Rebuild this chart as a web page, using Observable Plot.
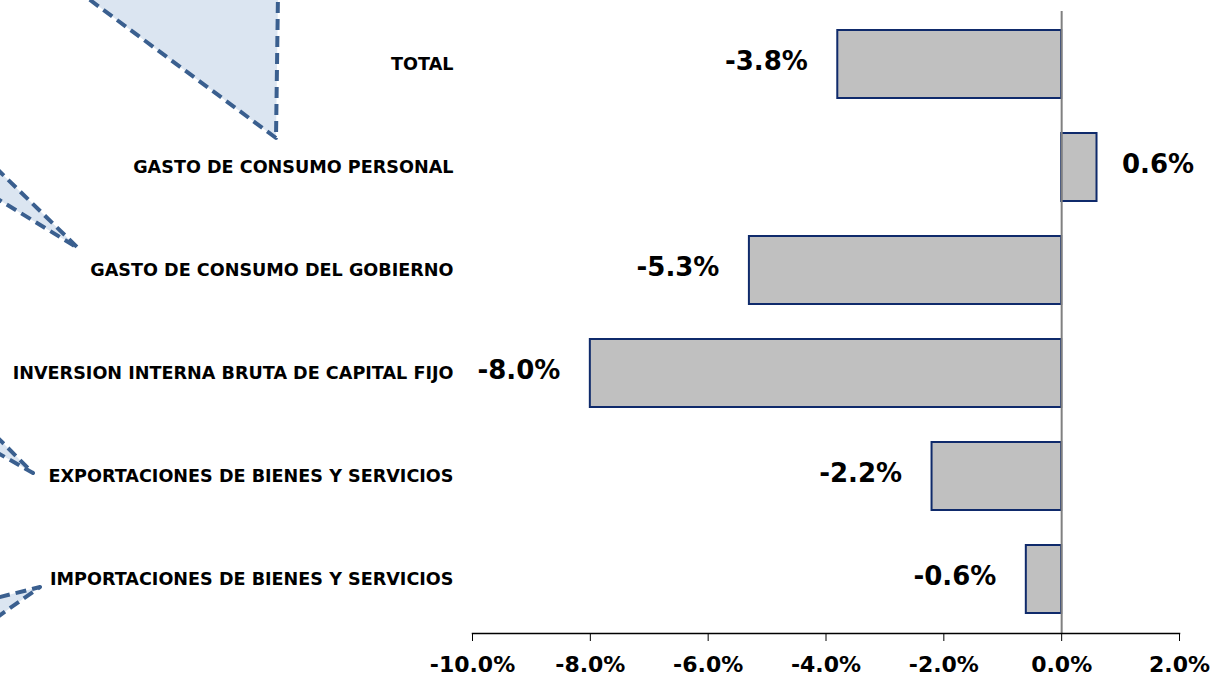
<!DOCTYPE html>
<html>
<head>
<meta charset="utf-8">
<script src="https://cdn.jsdelivr.net/npm/d3@7"></script>
<script src="https://cdn.jsdelivr.net/npm/@observablehq/plot@0.6"></script>
<style>
  html, body { margin: 0; padding: 0; background: #fff; }
  #wrap { position: relative; width: 1213px; height: 678px; overflow: hidden; }
  #deco { position: absolute; left: 0; top: 0; }
  #chart { position: absolute; left: 0; top: 0; }
</style>
</head>
<body>
<div id="wrap">
  <svg id="deco" width="1213" height="678">
    <g fill="#dbe5f1" stroke="#3a5f8f" stroke-width="4" stroke-dasharray="11 6" stroke-linejoin="round">
      <polygon points="82,-6 278,-6 276,138"/>
      <polygon points="-4,168 78,248 -4,198"/>
      <polygon points="-4,436 33,473 -4,452"/>
      <polygon points="-4,618 40,587 -4,598"/>
    </g>
  </svg>
  <div id="chart"></div>
</div>
<script>
const categories = [
  "TOTAL",
  "GASTO DE CONSUMO PERSONAL",
  "GASTO DE CONSUMO DEL GOBIERNO",
  "INVERSION INTERNA BRUTA DE CAPITAL FIJO",
  "EXPORTACIONES DE BIENES Y SERVICIOS",
  "IMPORTACIONES DE BIENES Y SERVICIOS"
];
const values = [-3.8, 0.6, -5.3, -8.0, -2.2, -0.6];
const xTicks = [-10, -8, -6, -4, -2, 0, 2];

const data = categories.map((c, i) => ({category: c, value: values[i]}));
const fmt = v => v.toFixed(1) + "%";
const font = "'DejaVu Sans', sans-serif";

const chart = Plot.plot({
  width: 1213,
  height: 678,
  marginLeft: 472,
  marginRight: 34,
  marginTop: 11,
  marginBottom: 45,
  style: {fontFamily: font, fontWeight: "bold", color: "#000", background: "transparent"},
  x: {domain: [-10, 2]},
  y: {domain: categories, paddingInner: 0.335, paddingOuter: 0.1675},
  marks: [
    Plot.barX(data, {y: "category", x1: 0, x2: "value", fill: "#c0c0c0", stroke: "#0f2a6b", strokeWidth: 2}),
    Plot.ruleX([0], {stroke: "#808080", strokeWidth: 2}),
    Plot.frame({anchor: "bottom", stroke: "#000", strokeWidth: 1.5}),
    Plot.axisX({ticks: xTicks, tickFormat: fmt, tickSize: 8, tickPadding: 15, fontSize: 22, fontWeight: "bold", label: null, stroke: "#000"}),
    Plot.axisY({tickSize: 0, tickPadding: 19, fontSize: 17.6, fontWeight: "bold", label: null}),
    Plot.text(data.filter(d => d.value < 0), {y: "category", x: "value", text: d => fmt(d.value), textAnchor: "end", dx: -30, dy: -3, fontSize: 26, fontWeight: "bold", fill: "#000"}),
    Plot.text(data.filter(d => d.value >= 0), {y: "category", x: "value", text: d => fmt(d.value), textAnchor: "start", dx: 25, dy: -3, fontSize: 26, fontWeight: "bold", fill: "#000"})
  ]
});
document.getElementById("chart").appendChild(chart);
</script>
</body>
</html>
